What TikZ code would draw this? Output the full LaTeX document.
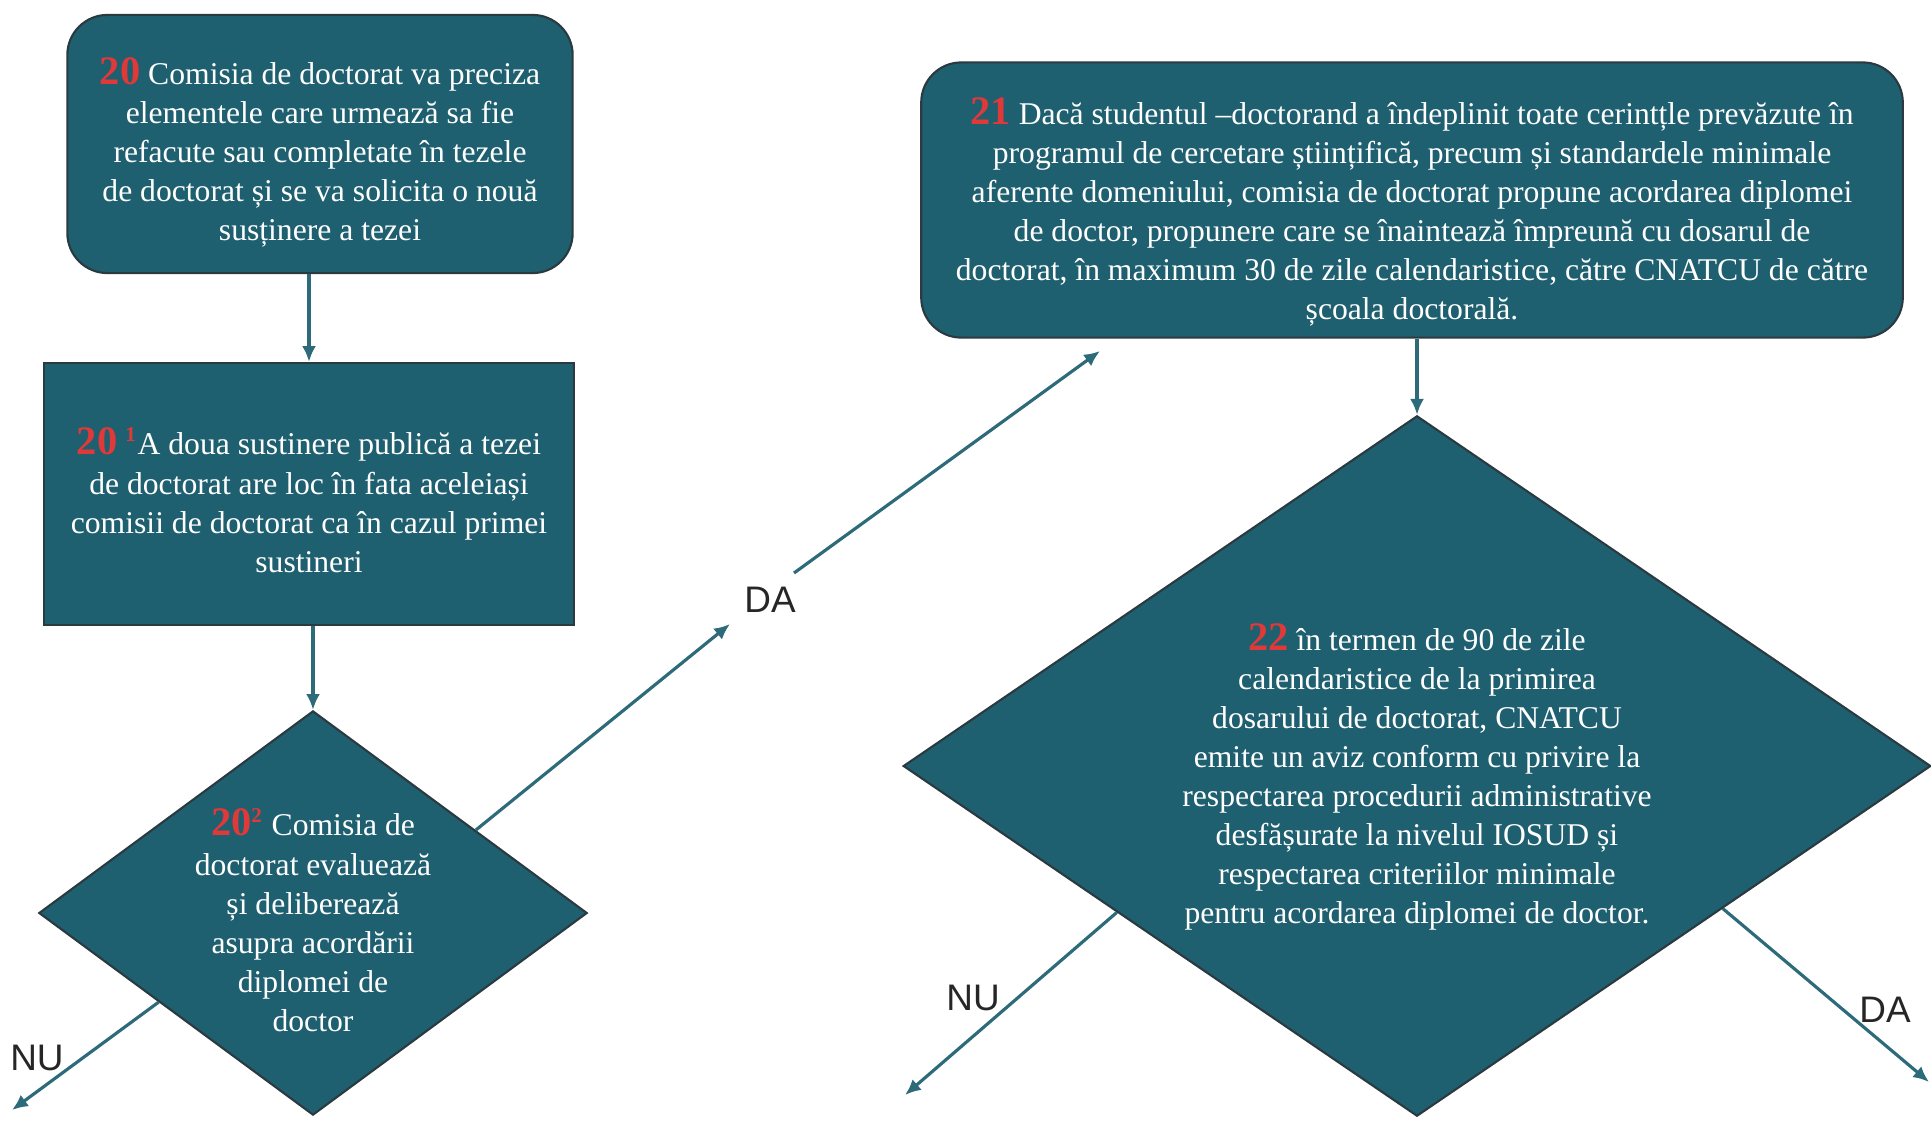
\documentclass[tikz,border=0pt]{standalone}
\usepackage{fontspec}
\setmainfont{Liberation Serif}
\newfontfamily\answerfont{Liberation Sans}
\usepackage{xcolor}
\usetikzlibrary{shapes.geometric,arrows.meta}

\definecolor{boxteal}{HTML}{1E5F70}
\definecolor{boxedge}{HTML}{2B3A40}
\definecolor{lineteal}{HTML}{2D6B7A}
\definecolor{numred}{HTML}{E0393A}

\newcommand{\stepno}[1]{{\fontsize{11.5}{11}\selectfont\bfseries\textcolor{numred}{#1}}}
\newcommand{\supno}[1]{\textsuperscript{\bfseries\textcolor{numred}{#1}}}

\begin{document}
\begin{tikzpicture}[x=0.01cm,y=-0.01cm,
    box/.style={draw=boxedge,line width=0.6pt,fill=boxteal,inner sep=0pt},
    rbox/.style={box,rounded corners=0.4cm},
    dec/.style={diamond,draw=boxedge,line width=0.6pt,fill=boxteal,inner sep=0pt},
    steptext/.style={text=white,align=center,font=\fontsize{9}{11.1}\selectfont,inner sep=0pt},
    flow/.style={draw=lineteal,line width=0.9pt,-{Latex[length=4.5pt,width=4pt]}},
    answer/.style={font=\answerfont\fontsize{10.5}{12}\selectfont,text=black!85}]
\useasboundingbox (0,0) rectangle (1931,1121);

% left column
\node[rbox,minimum width=5.05cm,minimum height=2.58cm] (b20) at (320,144) {};
\node[steptext] (t20) at (320,152)
  {\stepno{20} Comisia de doctorat va preciza\\
   elementele care urmează sa fie\\
   refacute sau completate în tezele\\
   de doctorat și se va solicita o nouă\\
   susținere a tezei};
\node[box,minimum width=5.3cm,minimum height=2.62cm] (b20a) at (309,494) {};
\node[steptext] (t20a) at (309,500)
  {\stepno{20} \supno{1}A doua sustinere publică a tezei\\
   de doctorat are loc în fata aceleiași\\
   comisii de doctorat ca în cazul primei\\
   sustineri};
\node[dec,minimum width=5.48cm,minimum height=4.04cm] (d20b) at (313,913) {};
\node[steptext] (t20b) at (313,920)
  {\stepno{20}\supno{2} Comisia de\\
   doctorat evaluează\\
   și deliberează\\
   asupra acordării\\
   diplomei de\\
   doctor};

% right column
\node[rbox,minimum width=9.81cm,minimum height=2.75cm] (b21) at (1412,200) {};
\node[steptext] (t21) at (1412,212)
  {\stepno{21} Dacă studentul –doctorand a îndeplinit toate cerintțle prevăzute în\\
   programul de cercetare științifică, precum și standardele minimale\\
   aferente domeniului, comisia de doctorat propune acordarea diplomei\\
   de doctor, propunere care se înaintează împreună cu dosarul de\\
   doctorat, în maximum 30 de zile calendaristice, către CNATCU de către\\
   școala doctorală.};
\node[dec,minimum width=10.27cm,minimum height=7.0cm] (d22) at (1417,766) {};
\node[steptext] (t22) at (1417,777)
  {\stepno{22} în termen de 90 de zile\\
   calendaristice de la primirea\\
   dosarului de doctorat, CNATCU\\
   emite un aviz conform cu privire la\\
   respectarea procedurii administrative\\
   desfășurate la nivelul IOSUD și\\
   respectarea criteriilor minimale\\
   pentru acordarea diplomei de doctor.};

% free ends of the answer arrows
\coordinate (nu1) at (12,1110);
\coordinate (da1a) at (730,624);
\coordinate (da1b) at (794,573);
\coordinate (da1c) at (1100,351);
\coordinate (nu2) at (905,1095);
\coordinate (da2) at (1929,1082);

\draw[flow] (b20a.north |- b20.south) -- (b20a.north);
\draw[flow] (d20b.north |- b20a.south) -- (d20b.north);
\draw[flow] (d22.north |- b21.south) -- (d22.north);

\draw[flow] (d20b.210) -- (nu1);
\draw[flow] (d20b.27) -- (da1a);
\draw[flow] (da1b) -- (da1c);
\draw[flow] (d22.206) -- (nu2);
\draw[flow] (d22.335) -- (da2);

\node[answer] (nuA) at (37,1058) {NU};
\node[answer] (daA) at (770,600) {DA};
\node[answer] (nuB) at (973,998) {NU};
\node[answer] (daB) at (1885,1010) {DA};
\end{tikzpicture}
\end{document}
